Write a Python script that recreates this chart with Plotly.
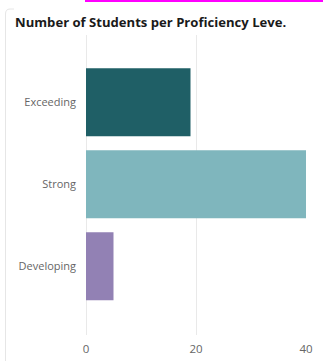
import plotly.graph_objects as go

categories = ["Exceeding", "Strong", "Developing"]
students = [19, 40, 5]
bar_colors = ["#1F5F66", "#7FB6BD", "#9281B4"]
x_ticks = [0, 20, 40]
title_text = "Number of Students per Proficiency Leve."

W, H = 323, 361
L, R, T, B = 86, 17, 35, 26
pw, ph = W - L - R, H - T - B

def px(x):
    return (x - L) / pw

def py(y):
    return 1 - (y - T) / ph

fig = go.Figure(
    go.Bar(
        x=students,
        y=categories,
        orientation="h",
        marker=dict(color=bar_colors, line=dict(width=0)),
        width=0.83,
        hoverinfo="x+y",
    )
)

fig.update_layout(
    width=W,
    height=H,
    margin=dict(l=L, r=R, t=T, b=B),
    paper_bgcolor="white",
    plot_bgcolor="white",
    showlegend=False,
    font=dict(family="Open Sans, Noto Sans, sans-serif", color="#666666", size=11),
    title=dict(
        text="<b>" + title_text + "</b>",
        x=15 / W, xref="container", xanchor="left",
        y=1 - 22 / H, yref="container", yanchor="middle",
        font=dict(family="Open Sans, Noto Sans, sans-serif", size=13.1, color="#1A1A1A"),
    ),
    xaxis=dict(
        range=[0, 40],
        tickvals=x_ticks,
        showgrid=True,
        gridcolor="#E9E9E9",
        gridwidth=1,
        zeroline=True,
        zerolinecolor="#E9E9E9",
        zerolinewidth=1,
        showline=False,
        ticks="",
        ticklabelstandoff=5,
        automargin=False,
        tickfont=dict(size=11.5, color="#666666"),
        fixedrange=True,
    ),
    yaxis=dict(
        type="category",
        categoryorder="array",
        categoryarray=categories,
        range=[2.84, -0.82],
        showgrid=False,
        zeroline=False,
        showline=False,
        ticks="",
        ticklabelstandoff=9,
        automargin=False,
        tickfont=dict(size=11, color="#666666"),
        fixedrange=True,
    ),
    shapes=[
        dict(type="line", xref="paper", yref="paper",
             x0=px(85), x1=px(323), y0=py(1), y1=py(1),
             line=dict(color="#FF00FF", width=2)),
        dict(type="path", xref="paper", yref="paper",
             path=f"M {px(5.5)} {py(361)} L {px(5.5)} {py(14)} Q {px(5.5)} {py(9)} {px(10)} {py(9)} L {px(14)} {py(9)}",
             line=dict(color="#E6E6E6", width=1)),
    ],
)

fig.write_html("out.html", config={"displayModeBar": False})
